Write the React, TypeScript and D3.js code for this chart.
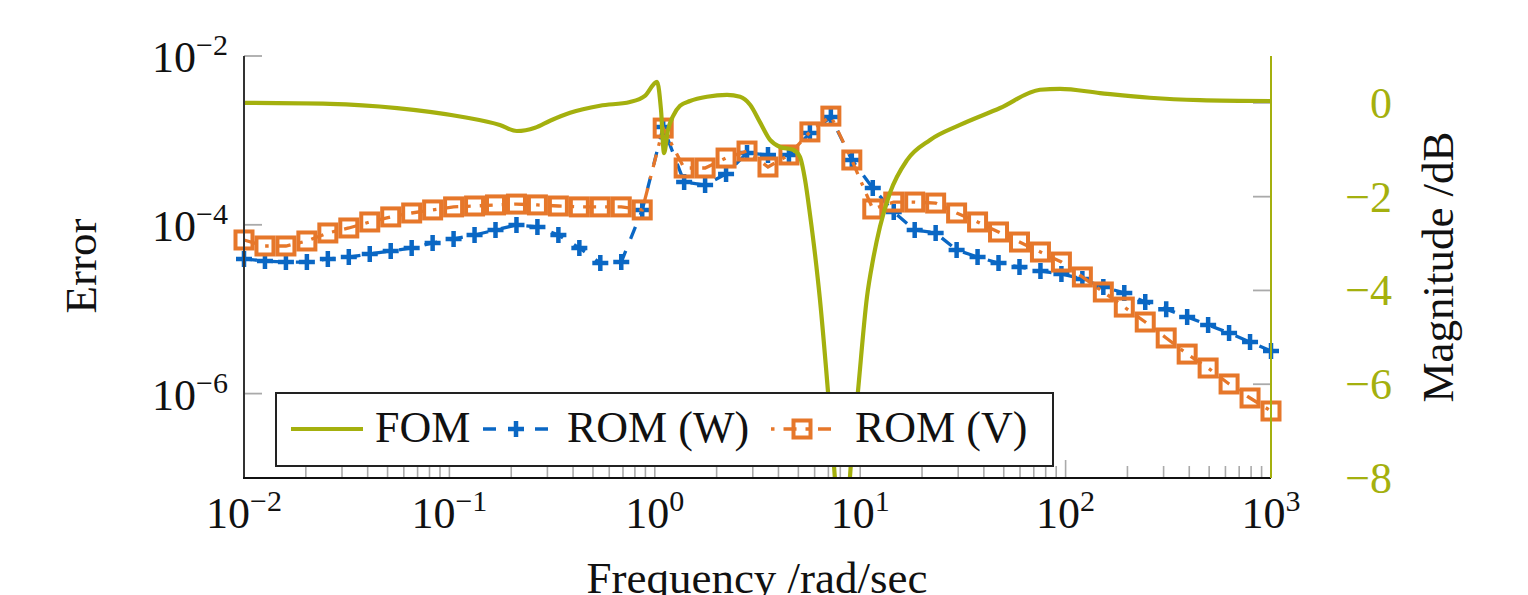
import React from "react";
import * as d3 from "d3";

// ---- data ----
const freqs = [
  0.01, 0.012649, 0.016, 0.020236, 0.025595, 0.032375, 0.040949, 0.051795, 0.065513, 0.082864,
  0.104811, 0.132571, 0.167683, 0.212095, 0.26827, 0.339322, 0.429193, 0.542868, 0.686649, 0.868511,
  1.098541, 1.389495, 1.757511, 2.222996, 2.811769, 3.55648, 4.498433, 5.689866, 7.196857, 9.102982,
  11.513954, 14.563485, 18.4207, 23.299518, 29.470517, 37.275937, 47.148664, 59.636233, 75.431201, 95.409548,
  120.679264, 152.641797, 193.069773, 244.205309, 308.88436, 390.693994, 494.171336, 625.055193, 790.604321, 1000,
];
const romW = [
  3.94e-5, 3.72e-5, 3.62e-5, 3.62e-5, 3.94e-5, 4.15e-5, 4.51e-5, 4.9e-5, 5.31e-5, 6.09e-5,
  6.79e-5, 7.57e-5, 8.68e-5, 9.95e-5, 9.42e-5, 7.57e-5, 5.31e-5, 3.52e-5, 3.62e-5, 1.5e-4,
  1.44e-3, 3.21e-4, 2.96e-4, 4.0e-4, 7.1e-4, 6.72e-4, 6.72e-4, 1.22e-3, 1.89e-3, 5.86e-4,
  2.73e-4, 1.42e-4, 8.68e-5, 8.0e-5, 5.03e-5, 4.15e-5, 3.52e-5, 3.16e-5, 2.84e-5, 2.61e-5,
  2.28e-5, 1.83e-5, 1.56e-5, 1.22e-5, 1.0e-5, 8.09e-6, 6.5e-6, 5.23e-6, 4.08e-6, 3.2e-6,
];
const romV = [
  6.61e-5, 5.61e-5, 5.61e-5, 6.43e-5, 8.0e-5, 9.17e-5, 1.08e-4, 1.24e-4, 1.38e-4, 1.5e-4,
  1.63e-4, 1.67e-4, 1.72e-4, 1.76e-4, 1.72e-4, 1.67e-4, 1.63e-4, 1.63e-4, 1.63e-4, 1.5e-4,
  1.4e-3, 4.71e-4, 4.71e-4, 6.18e-4, 7.48e-4, 4.84e-4, 6.72e-4, 1.26e-3, 1.94e-3, 5.86e-4,
  1.54e-4, 1.86e-4, 1.86e-4, 1.81e-4, 1.38e-4, 1.08e-4, 8.22e-5, 6.25e-5, 4.76e-5, 3.62e-5,
  2.41e-5, 1.6e-5, 1.06e-5, 7.05e-6, 4.56e-6, 2.94e-6, 2.01e-6, 1.3e-6, 8.87e-7, 6.22e-7,
];
const fomFreq = [
  0.01, 0.0262, 0.0556, 0.1164, 0.176, 0.213, 0.261, 0.309, 0.387, 0.541, 0.757, 0.895, 1.026,
  1.072, 1.109, 1.159, 1.227, 1.327, 1.484, 1.794, 2.247, 2.602, 2.91, 3.25, 3.64, 4.07, 4.71,
  5.09, 5.39, 5.7, 6.03, 6.37, 6.97, 7.54, 8.24, 8.91, 9.75, 10.79, 11.54, 12.48, 13.96, 16.9,
  21.9, 30.6, 48.0, 75.0, 94.0, 147, 257, 451, 1000,
];
const fomDb = [
  0, -0.02, -0.11, -0.3, -0.47, -0.6, -0.53, -0.38, -0.21, -0.06, 0.02, 0.15, 0.45,
  -0.15, -1.07, -0.58, -0.28, -0.06, 0.04, 0.13, 0.17, 0.13, -0.04, -0.41, -0.79, -0.94, -1.0,
  -1.15, -1.64, -2.39, -3.24, -4.2, -6.16, -8.04, -11, -8.0, -6.16, -4.14, -3.35, -2.64, -1.92, -1.22,
  -0.79, -0.47, -0.11, 0.28, 0.3, 0.21, 0.11, 0.06, 0.04,
];
const xTickExps = [-2, -1, 0, 1, 2, 3];
const yLeftTickExps = [-2, -4, -6];
const yRightTicks = [0, -2, -4, -6, -8];
const legendLabels = ["FOM", "ROM (W)", "ROM (V)"];

// ---- style ----
const OLIVE = "#a4b00e";
const BLUE = "#0a67c4";
const ORANGE = "#e6772a";
const GRAY = "#aaaaaa";
const FONT = "'Liberation Serif', 'Times New Roman', serif";

const L = 244, R = 1271, T = 56, B = 478;

export default function App() {
  const x = d3.scaleLog().domain([1e-2, 1e3]).range([L, R]);
  const yL = d3.scaleLog().domain([1e-7, 1e-2]).range([B, T]);
  const yR = d3.scaleLinear().domain([-8, 1]).range([B, T]);

  const lineW = d3.line<number>().x((_, i) => x(freqs[i])).y((d) => yL(d));
  const fomLine = d3
    .line<number>()
    .x((_, i) => x(fomFreq[i]))
    .y((d) => yR(d))
    .curve(d3.curveMonotoneX);

  const xt = x.ticks();
  const sup = (e: number) => (e < 0 ? "\u2212" + Math.abs(e) : String(e));

  const cross = (cx: number, cy: number, s = 8) =>
    `M${cx - s},${cy}h${2 * s}M${cx},${cy - s}v${2 * s}`;

  const legY = 429;

  return (
    <svg
      width={1528}
      height={595}
      style={{ position: "absolute", left: 0, top: 0, background: "#fff" }}
      fontFamily={FONT}
    >
      <defs>
        <clipPath id="plotclip">
          <rect x={L} y={T} width={R - L} height={B - T} />
        </clipPath>
      </defs>

      {/* bottom ticks */}
      {xt.map((t, i) => {
        const major = Math.abs(Math.log10(t) - Math.round(Math.log10(t))) < 1e-9;
        return (
          <line key={i} x1={x(t)} x2={x(t)} y1={B} y2={B - (major ? 18 : 12)} stroke={GRAY} strokeWidth={1.6} />
        );
      })}
      {/* left ticks */}
      {yLeftTickExps.map((e) => (
        <line key={e} x1={L} x2={L + 18} y1={yL(Math.pow(10, e))} y2={yL(Math.pow(10, e))} stroke={GRAY} strokeWidth={1.8} />
      ))}
      {/* right ticks */}
      {yRightTicks.map((v) => (
        <line key={v} x1={R} x2={R - 18} y1={yR(v)} y2={yR(v)} stroke={GRAY} strokeWidth={1.8} />
      ))}

      {/* ROM (W) */}
      <path d={lineW(romW) || ""} fill="none" stroke={BLUE} strokeWidth={3.3} strokeDasharray="13 13" />
      {romW.map((v, i) => (
        <path key={i} d={cross(x(freqs[i]), yL(v))} stroke={BLUE} strokeWidth={4.5} fill="none" />
      ))}

      {/* ROM (V) */}
      <path d={lineW(romV) || ""} fill="none" stroke={ORANGE} strokeWidth={3.3} strokeDasharray="13 9 3.5 9" />
      {romV.map((v, i) => (
        <rect key={i} x={x(freqs[i]) - 8.5} y={yL(v) - 8.5} width={17} height={17} fill="none" stroke={ORANGE} strokeWidth={4} />
      ))}

      {/* FOM */}
      <g clipPath="url(#plotclip)">
        <path d={fomLine(fomDb) || ""} fill="none" stroke={OLIVE} strokeWidth={4.2} strokeLinejoin="round" />
      </g>

      {/* axis lines */}
      <line x1={L} x2={L} y1={T} y2={B} stroke="#333" strokeWidth={2} />
      <line x1={L - 1} x2={R} y1={B} y2={B} stroke="#111" strokeWidth={2.2} />
      <line x1={R} x2={R} y1={T} y2={B} stroke={OLIVE} strokeWidth={2} />

      {/* x tick labels */}
      {xTickExps.map((e) => (
        <text key={e} x={x(Math.pow(10, e))} y={528} textAnchor="middle" fontSize={44} fill="#111">
          10
          <tspan fontSize={30} dy={-17}>{sup(e)}</tspan>
        </text>
      ))}
      {/* left tick labels */}
      {yLeftTickExps.map((e) => (
        <text key={e} x={228} y={yL(Math.pow(10, e)) + 16} textAnchor="end" fontSize={44} fill="#111">
          10
          <tspan fontSize={30} dy={-17}>{sup(e)}</tspan>
        </text>
      ))}
      {/* right tick labels */}
      {yRightTicks.map((v) => (
        <text key={v} x={1392} y={yR(v) + 15} textAnchor="end" fontSize={44} fill={OLIVE}>
          {v < 0 ? "\u2212" + Math.abs(v) : String(v)}
        </text>
      ))}

      {/* axis labels */}
      <text transform="translate(96,266) rotate(-90)" textAnchor="middle" fontSize={45} fill="#111">Error</text>
      <text transform="translate(1453,267) rotate(-90)" textAnchor="middle" fontSize={45} fill="#111">Magnitude /dB</text>
      <text x={757} y={593} textAnchor="middle" fontSize={45} fill="#111">Frequency /rad/sec</text>

      {/* legend */}
      <rect x={276} y={393} width={777} height={73} fill="#fff" stroke="#222" strokeWidth={2} />
      <line x1={291} x2={363} y1={legY} y2={legY} stroke={OLIVE} strokeWidth={4.2} />
      <text x={375} y={442} fontSize={44} fill="#111">{legendLabels[0]}</text>
      <line x1={483} x2={548} y1={legY} y2={legY} stroke={BLUE} strokeWidth={3.3} strokeDasharray="13 13" />
      <path d={cross(516, legY)} stroke={BLUE} strokeWidth={4.5} fill="none" />
      <text x={567} y={442} fontSize={44} fill="#111">{legendLabels[1]}</text>
      <line x1={771} x2={833} y1={legY} y2={legY} stroke={ORANGE} strokeWidth={3.3} strokeDasharray="3.5 9 13 9" />
      <rect x={802 - 8.5} y={legY - 8.5} width={17} height={17} fill="none" stroke={ORANGE} strokeWidth={4} />
      <text x={855} y={442} fontSize={44} fill="#111">{legendLabels[2]}</text>
    </svg>
  );
}
